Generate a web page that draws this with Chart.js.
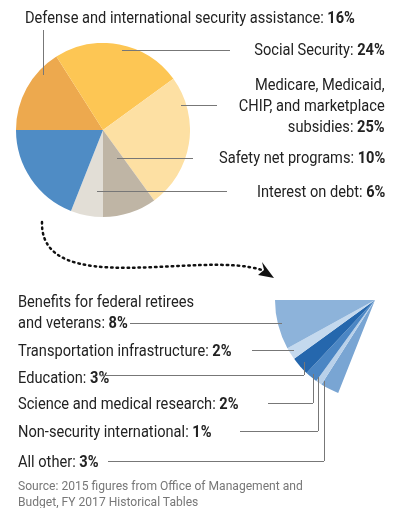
<!DOCTYPE html><html><head><meta charset="utf-8">
<script src="https://cdn.jsdelivr.net/npm/chart.js@4"></script>
<style>
body{margin:0;width:401px;height:508px;position:relative;overflow:hidden;background:#fff;font-family:"Roboto",sans-serif;color:#222}
.t{position:absolute;font-size:17px;line-height:21px;white-space:nowrap;transform:scaleX(.86);transform-origin:left center}
.r{text-align:right;right:16px;transform-origin:right center}
b{font-weight:bold}
.h{position:absolute;height:1px;background:#777}
.v{position:absolute;width:1px;background:#777}
#pie{position:absolute;left:16px;top:43px}
#fan{position:absolute;left:275px;top:200px}
.src{position:absolute;left:18px;top:478px;font-size:13px;line-height:16px;color:#777;transform:scaleX(.93);transform-origin:left}
</style></head><body>
<canvas id="pie" width="174" height="174" style="width:174px;height:174px"></canvas>
<canvas id="fan" width="200" height="200" style="width:200px;height:200px"></canvas>
<svg style="position:absolute;left:0;top:0" width="401" height="508">
<path d="M42 222 C 40 300, 200 250, 262 270" fill="none" stroke="#111" stroke-width="2.5" stroke-dasharray="1.5 4" stroke-linecap="round"/>
<path d="M274 278 L258 275 L264 270 L262 262 Z" fill="#111"/>
</svg>
<div class="t" style="left:25px;top:7px">Defense and international security assistance: <b>16%</b></div>
<div class="t r" style="top:39px">Social Security: <b>24%</b></div>
<div class="t r" style="top:74px;line-height:21px">Medicare, Medicaid,<br>CHIP, and marketplace<br>subsidies: <b>25%</b></div>
<div class="t r" style="top:147px">Safety net programs: <b>10%</b></div>
<div class="t r" style="top:181px">Interest on debt: <b>6%</b></div>
<div class="v" style="left:43px;top:30px;height:45px"></div>
<div class="h" style="left:122px;top:50px;width:108px"></div>
<div class="h" style="left:181px;top:105px;width:36px"></div>
<div class="h" style="left:117px;top:158px;width:76px"></div>
<div class="h" style="left:97px;top:191px;width:130px"></div>

<div class="t" style="left:18px;top:291px">Benefits for federal retirees<br>and veterans: <b>8%</b></div>
<div class="t" style="left:18px;top:340px">Transportation infrastructure: <b>2%</b></div>
<div class="t" style="left:18px;top:367px">Education: <b>3%</b></div>
<div class="t" style="left:18px;top:393px">Science and medical research: <b>2%</b></div>
<div class="t" style="left:18px;top:421px">Non-security international: <b>1%</b></div>
<div class="t" style="left:18px;top:451px">All other: <b>3%</b></div>
<div class="h" style="left:130px;top:323px;width:152px"></div>
<div class="h" style="left:252px;top:350px;width:42px"></div>
<div class="h" style="left:100px;top:375px;width:204px"></div><div class="v" style="left:304px;top:362px;height:13px"></div>
<div class="h" style="left:268px;top:403px;width:45px"></div><div class="v" style="left:313px;top:374px;height:29px"></div>
<div class="h" style="left:240px;top:431px;width:78px"></div><div class="v" style="left:318px;top:377px;height:54px"></div>
<div class="h" style="left:108px;top:461px;width:216px"></div><div class="v" style="left:324px;top:381px;height:80px"></div>
<div class="src">Source: 2015 figures from Office of Management and<br>Budget, FY 2017 Historical Tables</div>
<script>
const pieLabels=["Defense and international security assistance","Social Security","Medicare, Medicaid, CHIP, and marketplace subsidies","Safety net programs","Interest on debt","Other"];
const pieValues=[16,24,25,10,6,19];
const pieColors=["#eda94e","#fdc654","#fde0a3","#bfb5a5","#e2ded6","#4f8cc5"];
const fanLabels=["All other","Non-security international","Science and medical research","Education","Transportation infrastructure","Benefits for federal retirees and veterans"];
const fanValues=[3,1,2,3,2,8];
const fanColors=["#79a5d3","#b9d1ea","#4b86c4","#2567ad","#c4d9ee","#8db3da"];
const fanTotal=fanValues.reduce((a,b)=>a+b,0);
const base={responsive:false,animation:false,plugins:{legend:{display:false},tooltip:{enabled:false}},layout:{padding:0}};
new Chart(document.getElementById('pie'),{type:'pie',data:{labels:pieLabels,datasets:[{data:pieValues,backgroundColor:pieColors,borderWidth:0}]},options:{...base,rotation:270}});
new Chart(document.getElementById('fan'),{type:'pie',data:{labels:[...fanLabels,""],datasets:[{data:[...fanValues,100-fanTotal],backgroundColor:[...fanColors,"rgba(0,0,0,0)"],borderWidth:0}]},options:{...base,rotation:270-fanTotal*3.6}});
</script></body></html>
